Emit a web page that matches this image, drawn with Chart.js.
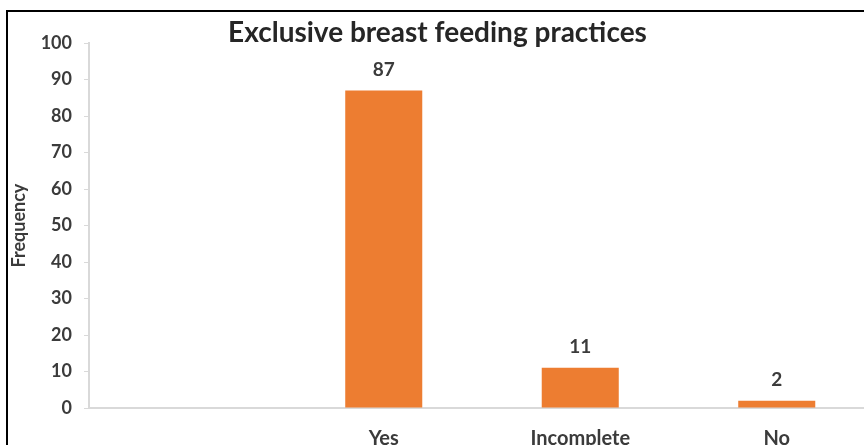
<!DOCTYPE html>
<html>
<head>
<meta charset="utf-8">
<script src="https://cdn.jsdelivr.net/npm/chart.js@4.4.0/dist/chart.umd.min.js"></script>
<style>
    html, body { margin: 0; padding: 0; background: #fff; overflow: hidden; }
    body { width: 864px; height: 445px; position: relative; }
    .frame {
        position: absolute; left: 6px; top: 10px;
        width: 1000px; height: 1000px;
        border: 2px solid #000;
    }
    .chart-box { position: absolute; left: 0; top: 0; width: 880px; height: 460px; }
</style>
</head>
<body>
<div class="frame"></div>
<div class="chart-box"><canvas id="ebf-chart" width="880" height="460"></canvas></div>
<script>
    // Chart data
    const categories = ['', 'Yes', 'Incomplete', 'No'];
    const frequencies = [null, 87, 11, 2];
    const yTicks = { min: 0, max: 100, step: 10 };

    const BAR_COLOR = '#ED7D31';
    const AXIS_COLOR = '#d9d9d9';
    const TEXT_COLOR = '#3b3b3b';
    const FONT = 'Lato, "Open Sans", sans-serif';

    // Value labels above each bar
    const barValueLabels = {
        id: 'barValueLabels',
        afterDatasetsDraw(chart) {
            const ctx = chart.ctx;
            const meta = chart.getDatasetMeta(0);
            ctx.save();
            ctx.font = 'bold 19px ' + FONT;
            ctx.fillStyle = TEXT_COLOR;
            ctx.textAlign = 'center';
            ctx.textBaseline = 'middle';
            meta.data.forEach((bar, i) => {
                const v = chart.data.datasets[0].data[i];
                if (v === null || v === undefined) return;
                ctx.fillText(String(v), bar.x, bar.y - 21);
            });
            ctx.restore();
        }
    };

    const ctx = document.getElementById('ebf-chart').getContext('2d');
    new Chart(ctx, {
        type: 'bar',
        data: {
            labels: categories,
            datasets: [{
                data: frequencies,
                backgroundColor: BAR_COLOR,
                borderWidth: 0,
                barPercentage: 0.392,
                categoryPercentage: 1
            }]
        },
        options: {
            responsive: false,
            animation: false,
            devicePixelRatio: 1,
            layout: { padding: { left: 0, right: 5, top: 0, bottom: 0 } },
            plugins: {
                legend: { display: false },
                tooltip: { enabled: false },
                title: {
                    display: true,
                    text: 'Exclusive breast feeding practices',
                    color: '#262626',
                    font: { family: FONT, size: 28, weight: 'bold', lineHeight: 0.9 },
                    padding: { top: 20, bottom: -2 }
                }
            },
            scales: {
                x: {
                    grid: { display: false },
                    border: { display: true, color: AXIS_COLOR, width: 2 },
                    ticks: {
                        color: TEXT_COLOR,
                        padding: 11,
                        maxRotation: 0,
                        autoSkip: false,
                        font: { family: FONT, size: 20, weight: 'bold' }
                    },
                    afterFit(scale) { scale.height = 52; }
                },
                y: {
                    min: yTicks.min,
                    max: yTicks.max,
                    grid: {
                        drawOnChartArea: false,
                        drawTicks: true,
                        tickLength: 5,
                        color: AXIS_COLOR
                    },
                    border: { display: true, color: AXIS_COLOR, width: 2 },
                    ticks: {
                        stepSize: yTicks.step,
                        color: TEXT_COLOR,
                        padding: 12,
                        font: { family: FONT, size: 18, weight: 'bold' }
                    },
                    title: {
                        display: true,
                        text: 'Frequency',
                        color: TEXT_COLOR,
                        padding: { top: 10, bottom: 0 },
                        font: { family: FONT, size: 18, weight: 'bold', lineHeight: 1 }
                    },
                    afterFit(scale) { scale.width = 89; }
                }
            }
        },
        plugins: [barValueLabels]
    });
</script>
</body>
</html>
